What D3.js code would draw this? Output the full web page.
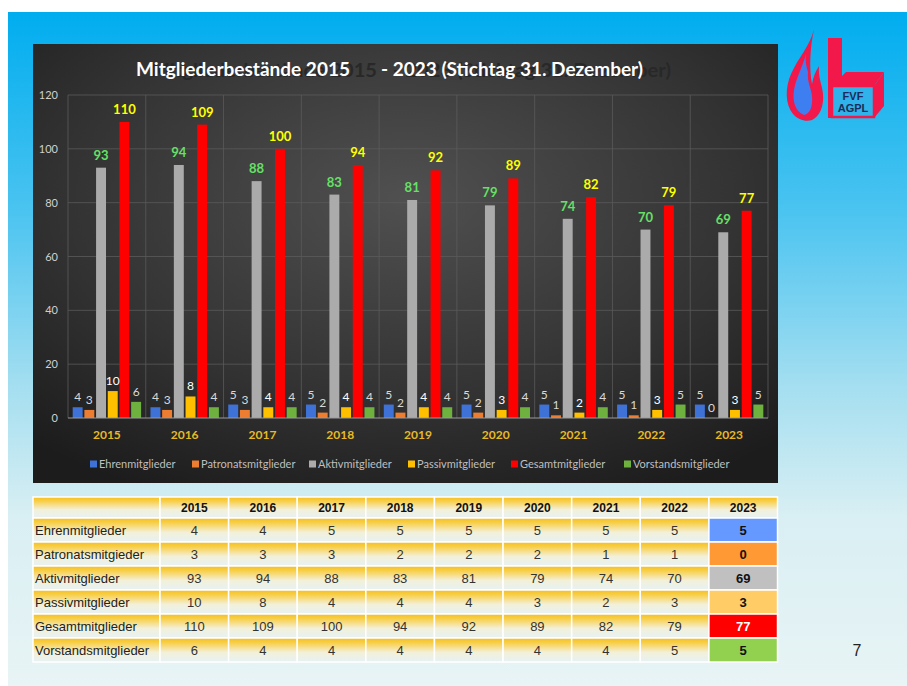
<!DOCTYPE html>
<html>
<head>
<meta charset="utf-8">
<script src="https://cdn.jsdelivr.net/npm/d3@7"></script>
<style>
  body { margin: 0; background: #fff; }
  svg { display: block; }
  text { white-space: pre; }
</style>
</head>
<body>
<div class="container"></div>
<script>
var w = 907;
var h = 686;

// data
var years = ["2015", "2016", "2017", "2018", "2019", "2020", "2021", "2022", "2023"];
var seriesNames = ["Ehrenmitglieder", "Patronatsmitglieder", "Aktivmitglieder", "Passivmitglieder", "Gesamtmitglieder", "Vorstandsmitglieder"];
var tableLabels = ["Ehrenmitglieder", "Patronatsmitgieder", "Aktivmitglieder", "Passivmitglieder", "Gesamtmitglieder", "Vorstandsmitglieder"];
var ehren = [4, 4, 5, 5, 5, 5, 5, 5, 5];
var patronats = [3, 3, 3, 2, 2, 2, 1, 1, 0];
var aktiv = [93, 94, 88, 83, 81, 79, 74, 70, 69];
var passiv = [10, 8, 4, 4, 4, 3, 2, 3, 3];
var gesamt = [110, 109, 100, 94, 92, 89, 82, 79, 77];
var vorstand = [6, 4, 4, 4, 4, 4, 4, 5, 5];
var yTicks = [0, 20, 40, 60, 80, 100, 120];

var values = [ehren, patronats, aktiv, passiv, gesamt, vorstand];
var barColors = ["#3f72d6", "#ed7d31", "#ababab", "#ffc000", "#ff0000", "#6fb13f"];
var labelColors = ["#d9d9d9", "#d9d9d9", "#66e066", "#ffffff", "#ffff00", "#d9d9d9"];
var highlight = ["#6699ff", "#ff9933", "#c0c0c0", "#ffcc66", "#ff0000", "#92d050"];

var svg = d3.select(".container").append("svg")
  .attr("width", w)
  .attr("height", h);

var defs = svg.append("defs");

var bg = defs.append("linearGradient").attr("id", "slideBg")
  .attr("x1", 0).attr("y1", 0).attr("x2", 0).attr("y2", 1);
bg.append("stop").attr("offset", 0).attr("stop-color", "#00adef");
bg.append("stop").attr("offset", 0.3).attr("stop-color", "#4cc4f0");
bg.append("stop").attr("offset", 0.55).attr("stop-color", "#a3def0");
bg.append("stop").attr("offset", 0.75).attr("stop-color", "#d9eff3");
bg.append("stop").attr("offset", 1).attr("stop-color", "#e8f4f5");

var panelBg = defs.append("radialGradient").attr("id", "panelBg")
  .attr("cx", 0.5).attr("cy", 0.35).attr("r", 0.75);
panelBg.append("stop").attr("offset", 0).attr("stop-color", "#505050");
panelBg.append("stop").attr("offset", 0.6).attr("stop-color", "#333333");
panelBg.append("stop").attr("offset", 1).attr("stop-color", "#1c1c1c");

var cellBg = defs.append("linearGradient").attr("id", "cellBg")
  .attr("x1", 0).attr("y1", 0).attr("x2", 0).attr("y2", 1);
cellBg.append("stop").attr("offset", 0).attr("stop-color", "#f5bf1c");
cellBg.append("stop").attr("offset", 0.2).attr("stop-color", "#f8cf4a");
cellBg.append("stop").attr("offset", 0.6).attr("stop-color", "#f3f0d9");
cellBg.append("stop").attr("offset", 1).attr("stop-color", "#e6f2f4");

// slide background
svg.append("rect").attr("x", 8).attr("y", 12).attr("width", w - 8).attr("height", h - 12)
  .attr("fill", "url(#slideBg)");

// chart panel
svg.append("rect").attr("x", 33).attr("y", 44).attr("width", 745).attr("height", 439)
  .attr("fill", "url(#panelBg)");

// title (with the dark ghost copy behind it)
var titleFont = "Lato, 'Open Sans', sans-serif";
function titlePart(x, y, anchor, size, len, color, str) {
  svg.append("text").attr("x", x).attr("y", y).attr("text-anchor", anchor)
    .attr("font-family", titleFont).attr("font-weight", "bold").attr("font-size", size)
    .attr("textLength", len).attr("lengthAdjust", "spacingAndGlyphs")
    .attr("fill", color).text(str);
}
titlePart(377, 77, "end", 19, 226, "#282828", "Mitgliederbestände 2015");
titlePart(671, 77, "end", 19, 278, "#282828", "- 2023 (Stichtag 31. Dezember)");
titlePart(136, 76, "start", 18, 214, "#ffffff", "Mitgliederbestände 2015");
titlePart(381, 76, "start", 18, 262, "#ffffff", "- 2023 (Stichtag 31. Dezember)");

// scales
var xScale = d3.scaleBand().domain(years).range([68, 768]).padding(0);
var xInner = d3.scaleBand().domain(d3.range(seriesNames.length))
  .range([0, xScale.bandwidth()]).paddingInner(0.15).paddingOuter(0.4);
var yScale = d3.scaleLinear().domain([0, 120]).range([418, 95]);

var plot = svg.append("g");

// gridlines
plot.append("g").selectAll("line").data(yTicks.slice(1)).enter().append("line")
  .attr("x1", 68).attr("x2", 768)
  .attr("y1", (d) => yScale(d)).attr("y2", (d) => yScale(d))
  .attr("stroke", "#5a5a5a").attr("stroke-width", 0.8);
plot.append("g").selectAll("line").data(years.concat(["end"])).enter().append("line")
  .attr("x1", (d, i) => 68 + i * xScale.step()).attr("x2", (d, i) => 68 + i * xScale.step())
  .attr("y1", yScale(120)).attr("y2", yScale(0))
  .attr("stroke", "#5a5a5a").attr("stroke-width", 0.8);

// y axis labels
var yAxis = svg.append("g").attr("transform", "translate(64,0)")
  .call(d3.axisLeft(yScale).tickValues(yTicks).tickSize(0).tickPadding(6));
yAxis.select(".domain").remove();
yAxis.selectAll("text").attr("font-family", titleFont).attr("font-size", 11).attr("fill", "#d0d0d0");

// bars
var groups = plot.append("g").selectAll("g").data(years).enter().append("g")
  .attr("transform", (d) => "translate(" + xScale(d) + ",0)");

groups.selectAll("rect").data((d, i) => values.map((s, k) => ({ k: k, v: s[i] })))
  .enter().append("rect")
  .attr("x", (d) => xInner(d.k))
  .attr("width", xInner.bandwidth())
  .attr("y", (d) => yScale(d.v))
  .attr("height", (d) => yScale(0) - yScale(d.v))
  .attr("fill", (d) => barColors[d.k]);

groups.selectAll("text").data((d, i) => values.map((s, k) => ({ k: k, v: s[i] })))
  .enter().append("text")
  .attr("x", (d) => xInner(d.k) + xInner.bandwidth() / 2)
  .attr("y", (d) => yScale(d.v) - (d.k == 2 || d.k == 4 ? 8 : 6))
  .attr("text-anchor", "middle")
  .attr("font-family", titleFont)
  .attr("font-weight", (d) => (d.k == 2 || d.k == 4 ? "bold" : "normal"))
  .attr("font-size", (d) => (d.k == 2 || d.k == 4 ? 13 : 12))
  .attr("fill", (d) => labelColors[d.k])
  .text((d) => d.v);

// baseline
plot.append("line").attr("x1", 68).attr("x2", 768)
  .attr("y1", yScale(0)).attr("y2", yScale(0))
  .attr("stroke", "#9a9a9a").attr("stroke-width", 1);

// x axis labels
var xAxis = svg.append("g").attr("transform", "translate(0," + yScale(0) + ")")
  .call(d3.axisBottom(xScale).tickSize(0).tickPadding(12));
xAxis.select(".domain").remove();
xAxis.selectAll("text").attr("font-family", titleFont).attr("font-weight", "bold")
  .attr("font-size", 12).attr("fill", "#e8b925");

// legend
var legendX = [90, 192, 309, 408, 511, 624];
var legend = svg.append("g").selectAll("g").data(seriesNames).enter().append("g")
  .attr("transform", (d, i) => "translate(" + legendX[i] + ",464)");
legend.append("rect").attr("x", 0).attr("y", -3.5).attr("width", 7).attr("height", 7)
  .attr("fill", (d, i) => barColors[i]);
legend.append("text").attr("x", 9).attr("y", 4)
  .attr("font-family", titleFont).attr("font-size", 11).attr("fill", "#bfbfbf")
  .text((d) => d);

// logo
var logo = svg.append("g");
logo.append("path")
  .attr("d", "M814,29 C810,46 798,58 791,74 C785,88 785,104 793,114 C798,120 806,122 812,120 C820,116 824,106 823,94 C822,84 818,78 819,66 C815,72 813,78 812,84 C809,68 810,48 814,29 Z")
  .attr("fill", "#f2184a");
logo.append("path")
  .attr("d", "M806,54 C803,66 796,78 794,90 C792,102 796,112 804,115 C810,114 813,106 812,96 C811,88 807,82 808,72 C806,66 805,60 806,54 Z")
  .attr("fill", "#3d7ff0");
logo.append("rect").attr("x", 828).attr("y", 38).attr("width", 14).attr("height", 48).attr("fill", "#f2184a");
logo.append("path").attr("d", "M842,72 L842,86 L832,86 L832,118 L828,118 L828,84 L842,70 Z").attr("fill", "#f2184a");
logo.append("path").attr("d", "M832,86 L846,72 L884,72 L874,86 Z").attr("fill", "#f2184a");
logo.append("path").attr("d", "M874,86 L884,72 L884,106 L874,118 Z").attr("fill", "#f2184a");
logo.append("rect").attr("x", 832).attr("y", 86).attr("width", 42).attr("height", 31)
  .attr("fill", "#2fb3ea").attr("stroke", "#f2184a").attr("stroke-width", 2.5);
logo.append("text").attr("x", 853).attr("y", 100).attr("text-anchor", "middle")
  .attr("font-family", "'Liberation Sans', Arial, sans-serif").attr("font-weight", "bold")
  .attr("font-size", 11).attr("fill", "#1c2b5a").text("FVF");
logo.append("text").attr("x", 853).attr("y", 112).attr("text-anchor", "middle")
  .attr("font-family", "'Liberation Sans', Arial, sans-serif").attr("font-weight", "bold")
  .attr("font-size", 11).attr("fill", "#1c2b5a").text("AGPL");

// table
var tableFont = "'Liberation Sans', Arial, sans-serif";
var colX = d3.scaleBand().domain(years).range([160, 777.5]);
var rowY = d3.scaleBand().domain(d3.range(tableLabels.length)).range([518, 662]);
var table = svg.append("g");

// header row
table.append("rect").attr("x", 33).attr("y", 497).attr("width", 127).attr("height", 21)
  .attr("fill", "url(#cellBg)").attr("stroke", "#ffffff").attr("stroke-width", 1.5);
table.append("g").selectAll("rect").data(years).enter().append("rect")
  .attr("x", (d) => colX(d)).attr("y", 497).attr("width", colX.bandwidth()).attr("height", 21)
  .attr("fill", "url(#cellBg)").attr("stroke", "#ffffff").attr("stroke-width", 1.5);
table.append("g").selectAll("text").data(years).enter().append("text")
  .attr("x", (d) => colX(d) + colX.bandwidth() / 2).attr("y", 512)
  .attr("text-anchor", "middle").attr("font-family", tableFont).attr("font-weight", "bold")
  .attr("font-size", 12).attr("fill", "#111").text((d) => d);

var rows = table.append("g").selectAll("g").data(tableLabels).enter().append("g")
  .attr("transform", (d, i) => "translate(0," + rowY(i) + ")");
rows.append("rect").attr("x", 33).attr("y", 0).attr("width", 127).attr("height", rowY.bandwidth())
  .attr("fill", "url(#cellBg)").attr("stroke", "#ffffff").attr("stroke-width", 1.5);
rows.append("text").attr("x", 35).attr("y", rowY.bandwidth() / 2 + 5)
  .attr("font-family", tableFont).attr("font-size", 13).attr("fill", "#222").text((d) => d);

rows.each(function (label, r) {
  var row = d3.select(this);
  row.selectAll("rect.cell").data(values[r]).enter().append("rect")
    .attr("class", "cell")
    .attr("x", (d, i) => colX(years[i])).attr("y", 0)
    .attr("width", colX.bandwidth()).attr("height", rowY.bandwidth())
    .attr("fill", (d, i) => (i == years.length - 1 ? highlight[r] : "url(#cellBg)"))
    .attr("stroke", "#ffffff").attr("stroke-width", 1.5);
  row.selectAll("text.val").data(values[r]).enter().append("text")
    .attr("class", "val")
    .attr("x", (d, i) => colX(years[i]) + colX.bandwidth() / 2)
    .attr("y", rowY.bandwidth() / 2 + 5)
    .attr("text-anchor", "middle").attr("font-family", tableFont)
    .attr("font-weight", (d, i) => (i == years.length - 1 ? "bold" : "normal"))
    .attr("font-size", 13)
    .attr("fill", (d, i) => (i == years.length - 1 ? (r == 4 ? "#ffffff" : "#111") : "#333"))
    .text((d) => d);
});

// page number
svg.append("text").attr("x", 857).attr("y", 656).attr("text-anchor", "middle")
  .attr("font-family", tableFont).attr("font-size", 16).attr("fill", "#222").text("7");
</script>
</body>
</html>
